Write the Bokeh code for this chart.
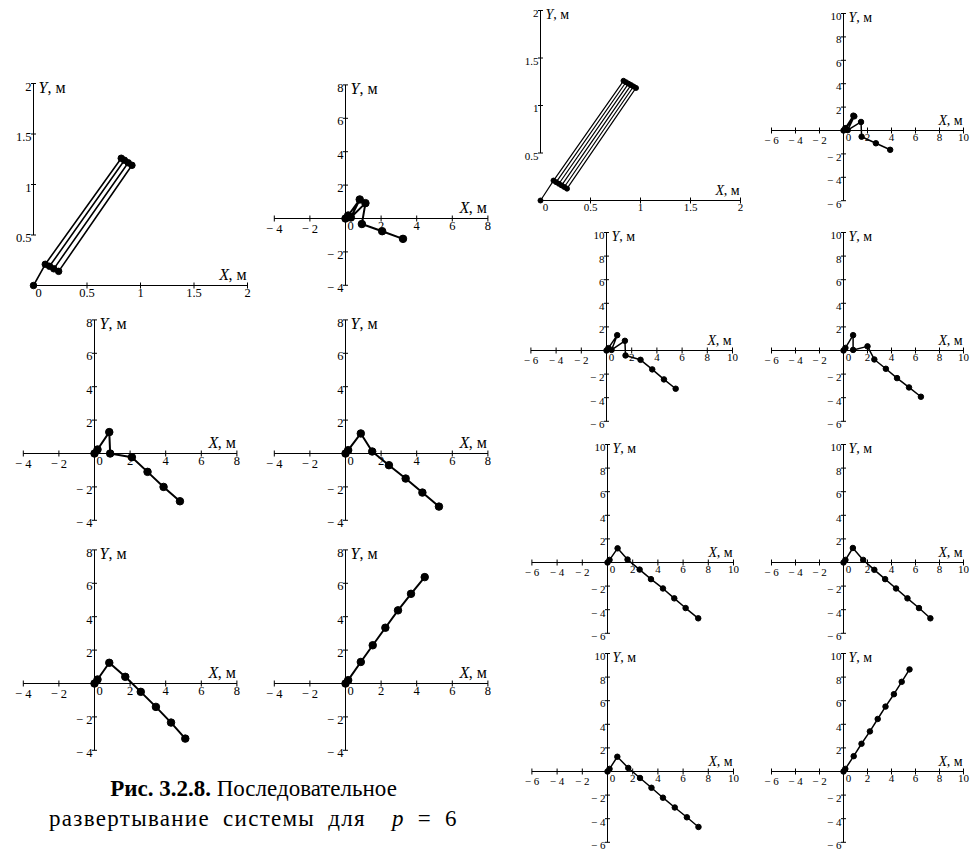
import numpy as np
from bokeh.plotting import figure
from bokeh.models import Range1d, Div
from bokeh.layouts import row, column
from bokeh.embed import file_html
from bokeh.resources import INLINE
from bokeh.core.properties import value

# ---------------- data ----------------
# left group (p = 6)
L1_x = [0.0, 0.11, 0.82, 0.85, 0.15, 0.19, 0.885, 0.92, 0.235]
L1_y = [0.0, 0.21, 1.26, 1.24, 0.19, 0.165, 1.215, 1.19, 0.14]
L2_x = [0.0, 0.15, 0.80, 0.30, 1.12, 0.92, 2.06, 3.23]
L2_y = [0.0, 0.18, 1.14, 0.06, 0.92, -0.33, -0.76, -1.22]
L3_x = [0.0, 0.17, 0.83, 0.88, 2.10, 2.98, 3.88, 4.80]
L3_y = [0.0, 0.24, 1.28, 0.00, -0.22, -1.10, -2.00, -2.86]
L4_x = [0.0, 0.15, 0.86, 1.50, 2.44, 3.38, 4.32, 5.25]
L4_y = [0.0, 0.20, 1.20, 0.12, -0.70, -1.50, -2.34, -3.18]
L5_x = [0.0, 0.17, 0.83, 1.73, 2.60, 3.45, 4.30, 5.10]
L5_y = [0.0, 0.24, 1.24, 0.40, -0.50, -1.40, -2.34, -3.30]
L6_x = [0.0, 0.15, 0.86, 1.53, 2.24, 2.95, 3.68, 4.45]
L6_y = [0.0, 0.20, 1.29, 2.29, 3.34, 4.38, 5.37, 6.37]

# right group
R1_x = [0.0, 0.13, 0.83, 0.855, 0.157, 0.184, 0.88, 0.905, 0.211, 0.238, 0.93, 0.955, 0.265]
R1_y = [0.0, 0.21, 1.26, 1.245, 0.193, 0.176, 1.23, 1.215, 0.159, 0.142, 1.20, 1.185, 0.125]
R2_x = [0.0, 0.15, 0.82, 0.20, 0.90, 0.35, 1.46, 1.51, 2.70, 3.89]
R2_y = [0.0, 0.20, 1.27, 0.17, 1.21, 0.03, 0.73, -0.53, -1.09, -1.65]
R3_x = [0.0, 0.15, 0.85, 0.40, 1.46, 1.51, 2.70, 3.63, 4.56, 5.49]
R3_y = [0.0, 0.20, 1.30, 0.05, 0.82, -0.42, -0.79, -1.60, -2.45, -3.24]
R4_x = [0.0, 0.16, 0.80, 0.80, 2.00, 2.57, 3.53, 4.46, 5.46, 6.45]
R4_y = [0.0, 0.22, 1.30, 0.05, 0.35, -0.76, -1.55, -2.34, -3.13, -3.92]
R5_x = [0.0, 0.16, 0.80, 1.59, 2.55, 3.45, 4.40, 5.30, 6.20, 7.20]
R5_y = [0.0, 0.22, 1.20, 0.25, -0.60, -1.41, -2.20, -3.04, -3.86, -4.73]
R6_x = [0.0, 0.16, 0.78, 1.64, 2.57, 3.47, 4.38, 5.33, 6.29, 7.24]
R6_y = [0.0, 0.22, 1.23, 0.22, -0.62, -1.41, -2.20, -3.04, -3.86, -4.73]
R7_x = [0.0, 0.16, 0.78, 1.65, 2.58, 3.49, 4.40, 5.34, 6.30, 7.22]
R7_y = [0.0, 0.22, 1.25, 0.30, -0.55, -1.38, -2.22, -3.05, -3.88, -4.70]
R8_x = [0.0, 0.15, 0.85, 1.50, 2.20, 2.85, 3.50, 4.20, 4.85, 5.50]
R8_y = [0.0, 0.22, 1.30, 2.35, 3.40, 4.45, 5.50, 6.55, 7.60, 8.65]

# tick values / labels
S_ticks = [0.0, 0.5, 1.0, 1.5, 2.0]
S_labels = ["0", "0.5", "1", "1.5", "2"]
L_ticks = [-4, -2, 0, 2, 4, 6, 8]
L_labels = ["\u2212 4", "\u2212 2", "0", "2", "4", "6", "8"]
R_ticks = [-6, -4, -2, 0, 2, 4, 6, 8, 10]
R_labels = ["\u2212 6", "\u2212 4", "\u2212 2", "0", "2", "4", "6", "8", "10"]

caption_bold = "Рис. 3.2.8."
caption_1 = "Последовательное"
caption_2 = "развертывание системы для"
caption_eq = "= 6"

SERIF = "Liberation Serif, Times New Roman, Times, serif"


def panel(w, h, left, top, ox, oy, sx, sy):
    # left/top/ox/oy are positions on the page, sx/sy pixels per metre
    x0 = (left - ox) / sx
    x1 = (left + w - ox) / sx
    y1 = (oy - top) / sy
    y0 = (oy - top - h) / sy
    p = figure(width=w, height=h, x_range=Range1d(x0, x1), y_range=Range1d(y0, y1),
               output_backend="svg", toolbar_location=None, min_border=0,
               x_axis_type=None, y_axis_type=None, title=None)
    p.outline_line_color = None
    p.background_fill_color = "white"
    p.border_fill_color = "white"
    return p


def axes(p, xt, xl, yt, yl, fs, tfs):
    xr = (min(xt), max(xt))
    yr = (min(yt), max(yt))
    p.segment(x0=[xr[0], 0], y0=[0, yr[0]], x1=[xr[1], 0], y1=[0, yr[1]],
              line_color="black", line_width=1)
    xm = [v for v in xt if v != 0]
    ym = [v for v in yt if v != 0]
    p.scatter(x=xm, y=[0] * len(xm), marker="dash", size=6, angle=np.pi / 2,
              line_color="black", line_width=1)
    p.scatter(x=[0] * len(ym), y=ym, marker="dash", size=5,
              line_color="black", line_width=1)
    p.text(x=xt, y=[0] * len(xt), text=xl,
           x_offset=[5 if v == 0 else 0 for v in xt], y_offset=3,
           text_align="center", text_baseline="top",
           text_font=value(SERIF), text_font_size=f"{fs}px", text_color="black")
    yl2 = [l for v, l in zip(yt, yl) if v != 0]
    p.text(x=[0] * len(ym), y=ym, text=yl2, x_offset=-2, y_offset=3,
           text_align="right", text_baseline="middle",
           text_font=value(SERIF), text_font_size=f"{fs}px", text_color="black")
    cw = tfs * 1.1
    # X, м
    p.text(x=[xr[1]], y=[0], text=[", м"], x_offset=-1, y_offset=-3,
           text_align="right", text_baseline="bottom",
           text_font=value(SERIF), text_font_size=f"{tfs}px", text_color="black")
    p.text(x=[xr[1]], y=[0], text=["X"], x_offset=-1 - cw, y_offset=-3,
           text_align="right", text_baseline="bottom", text_font_style="italic",
           text_font=value(SERIF), text_font_size=f"{tfs}px", text_color="black")
    # Y, м
    p.text(x=[0], y=[yr[1]], text=["Y"], x_offset=5, y_offset=4,
           text_align="left", text_baseline="middle", text_font_style="italic",
           text_font=value(SERIF), text_font_size=f"{tfs}px", text_color="black")
    p.text(x=[0], y=[yr[1]], text=[", м"], x_offset=5 + tfs * 0.56, y_offset=4,
           text_align="left", text_baseline="middle",
           text_font=value(SERIF), text_font_size=f"{tfs}px", text_color="black")


def chain(p, xs, ys, lw, ds):
    p.line(xs, ys, line_color="black", line_width=lw)
    p.scatter(xs, ys, size=ds, fill_color="black", line_color="black")


# ---------------- left group ----------------
LW, LD = 2.0, 7.5
TL, FL = 16, 12.5
l1 = panel(258, 305, 0, 0, 33, 285, 107, 101)
axes(l1, S_ticks, S_labels, S_ticks[1:], S_labels[1:], FL, TL)
chain(l1, L1_x, L1_y, 1.6, 6.5)

l2 = panel(255, 305, 258, 0, 345, 218, 17.8, 16.7)
axes(l2, L_ticks, L_labels, L_ticks, L_labels, FL, TL)
chain(l2, L2_x, L2_y, LW, LD)

l3 = panel(258, 225, 0, 305, 94, 453, 17.8, 16.7)
axes(l3, L_ticks, L_labels, L_ticks, L_labels, FL, TL)
chain(l3, L3_x, L3_y, LW, LD)

l4 = panel(255, 225, 258, 305, 345, 453, 17.8, 16.7)
axes(l4, L_ticks, L_labels, L_ticks, L_labels, FL, TL)
chain(l4, L4_x, L4_y, LW, LD)

l5 = panel(258, 235, 0, 530, 94, 683, 17.8, 16.7)
axes(l5, L_ticks, L_labels, L_ticks, L_labels, FL, TL)
chain(l5, L5_x, L5_y, LW, LD)

l6 = panel(255, 235, 258, 530, 345, 683, 17.8, 16.7)
axes(l6, L_ticks, L_labels, L_ticks, L_labels, FL, TL)
chain(l6, L6_x, L6_y, LW, LD)

cap = Div(text=(
    '<div style="width:507px;text-align:center;'
    'font-family:\'Liberation Serif\',\'Times New Roman\',Times,serif;'
    'font-size:23px;line-height:30px;color:#000;padding-top:9px">'
    f'<b>{caption_bold}</b> {caption_1}<br>'
    f'<span style="word-spacing:6px;letter-spacing:1.3px">{caption_2}&nbsp; '
    f'<i>p</i> {caption_eq}</span></div>'),
    width=513, height=87, margin=(0, 0, 0, 0))

left = column(row(l1, l2), row(l3, l4), row(l5, l6), cap)

# ---------------- right group ----------------
RW, RD = 1.5, 5.5
TR, FR = 14, 11
r1 = panel(242, 222, 513, 0, 540, 200, 100, 95)
axes(r1, S_ticks, S_labels, S_ticks[1:], S_labels[1:], FR, TR)
chain(r1, R1_x, R1_y, 1.2, 5)

r2 = panel(215, 222, 755, 0, 843, 130, 12.0, 11.7)
axes(r2, R_ticks, R_labels, R_ticks, R_labels, FR, TR)
chain(r2, R2_x, R2_y, RW, RD)

r3 = panel(242, 212, 513, 222, 606, 350, 12.6, 11.8)
axes(r3, R_ticks, R_labels, R_ticks, R_labels, FR, TR)
chain(r3, R3_x, R3_y, RW, RD)

r4 = panel(215, 212, 755, 222, 843, 350, 12.0, 11.8)
axes(r4, R_ticks, R_labels, R_ticks, R_labels, FR, TR)
chain(r4, R4_x, R4_y, RW, RD)

r5 = panel(242, 209, 513, 434, 607, 562, 12.6, 11.8)
axes(r5, R_ticks, R_labels, R_ticks, R_labels, FR, TR)
chain(r5, R5_x, R5_y, RW, RD)

r6 = panel(215, 209, 755, 434, 843, 562, 12.0, 11.8)
axes(r6, R_ticks, R_labels, R_ticks, R_labels, FR, TR)
chain(r6, R6_x, R6_y, RW, RD)

r7 = panel(242, 209, 513, 643, 607, 771, 12.6, 11.8)
axes(r7, R_ticks, R_labels, R_ticks, R_labels, FR, TR)
chain(r7, R7_x, R7_y, RW, RD)

r8 = panel(215, 209, 755, 643, 843, 771, 12.0, 11.8)
axes(r8, R_ticks, R_labels, R_ticks, R_labels, FR, TR)
chain(r8, R8_x, R8_y, RW, RD)

right = column(row(r1, r2), row(r3, r4), row(r5, r6), row(r7, r8))

page = row(left, right)
open("out.html", "w").write(file_html(page, INLINE))
